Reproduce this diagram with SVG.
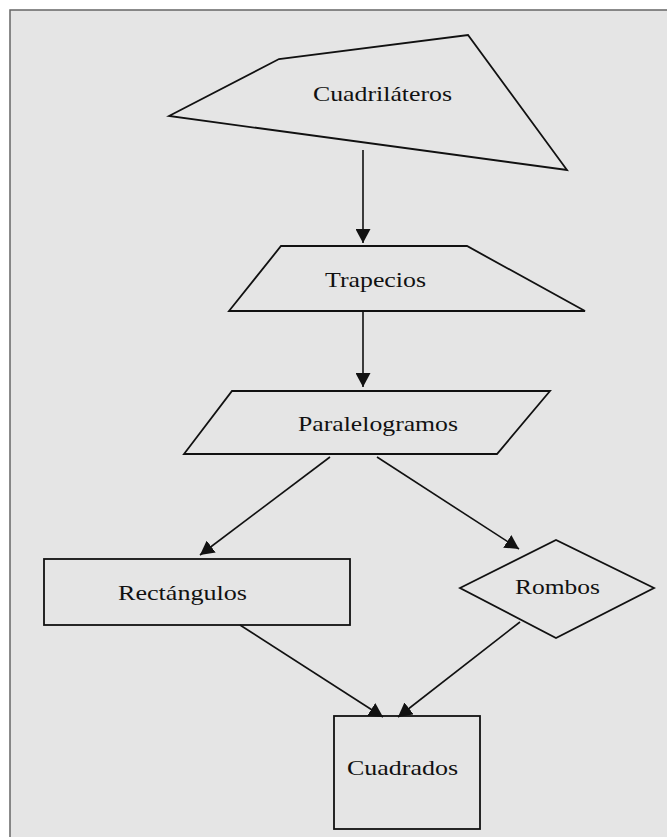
<svg xmlns="http://www.w3.org/2000/svg" width="667" height="837" viewBox="0 0 667 837">
<style>
.shape{fill:none;stroke:#111;stroke-width:1.8;stroke-linejoin:miter}
.lbl{font-family:"Liberation Serif","Times New Roman",serif;font-size:22px;fill:#111}
.edge{stroke:#111;stroke-width:1.6;fill:none}
</style>
<defs>
<marker id="ah" viewBox="0 0 14 15" refX="14" refY="7.5" markerWidth="14" markerHeight="15" markerUnits="userSpaceOnUse" orient="auto">
<path d="M0,0 L14,7.5 L0,15 z" fill="#111"/>
</marker>
</defs>
<rect x="0" y="0" width="667" height="837" fill="#ffffff"/>
<rect x="10" y="10" width="680" height="850" fill="#e5e5e5" stroke="#666" stroke-width="1.5"/>
<g id="cuadrilateros">
<polygon class="shape" points="169,116 279,59 468,35 567,170"/>
<text class="lbl" x="313" y="101" textLength="139" lengthAdjust="spacingAndGlyphs">Cuadriláteros</text>
</g>
<g id="trapecios">
<polygon class="shape" points="281,246 467,246 585,311 229,311"/>
<text class="lbl" x="325" y="287" textLength="101" lengthAdjust="spacingAndGlyphs">Trapecios</text>
</g>
<g id="paralelogramos">
<polygon class="shape" points="232,391 550,391 497,454 184,454"/>
<text class="lbl" x="298" y="431" textLength="160" lengthAdjust="spacingAndGlyphs">Paralelogramos</text>
</g>
<g id="rectangulos">
<rect class="shape" x="44" y="559" width="306" height="66"/>
<text class="lbl" x="118" y="600" textLength="129" lengthAdjust="spacingAndGlyphs">Rectángulos</text>
</g>
<g id="rombos">
<polygon class="shape" points="460,588 556,540 654,588 556,638"/>
<text class="lbl" x="515" y="594" textLength="85" lengthAdjust="spacingAndGlyphs">Rombos</text>
</g>
<g id="cuadrados">
<rect class="shape" x="334" y="716" width="146" height="113"/>
<text class="lbl" x="347" y="775" textLength="111" lengthAdjust="spacingAndGlyphs">Cuadrados</text>
</g>
<g id="connectors">
<line class="edge" x1="363" y1="150" x2="363" y2="243" marker-end="url(#ah)"/>
<line class="edge" x1="363" y1="311" x2="363" y2="387" marker-end="url(#ah)"/>
<line class="edge" x1="330" y1="457" x2="200" y2="555" marker-end="url(#ah)"/>
<line class="edge" x1="377" y1="457" x2="519" y2="549" marker-end="url(#ah)"/>
<line class="edge" x1="240" y1="625" x2="383" y2="717" marker-end="url(#ah)"/>
<line class="edge" x1="520" y1="622" x2="398" y2="717" marker-end="url(#ah)"/>
</g>
</svg>
